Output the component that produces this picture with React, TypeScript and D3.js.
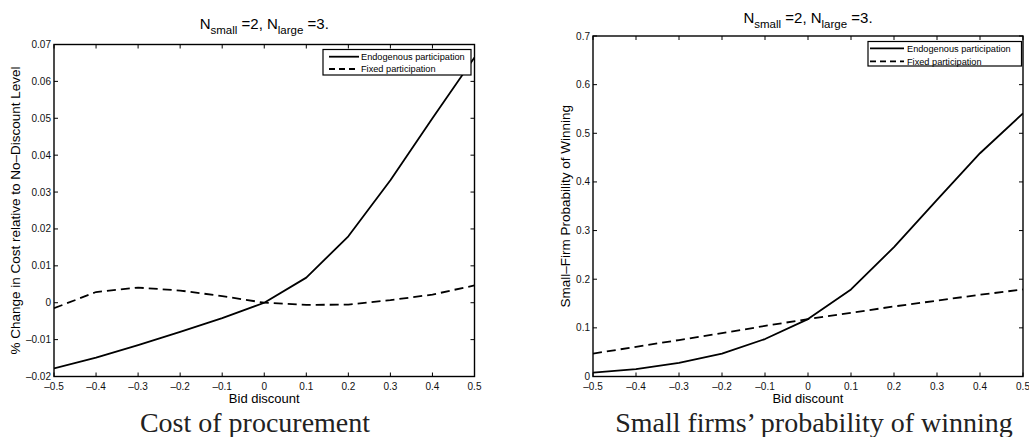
import React from "react";
import * as d3 from "d3";

const bidDiscount = [-0.5, -0.4, -0.3, -0.2, -0.1, 0, 0.1, 0.2, 0.3, 0.4, 0.5];
const costEndogenous = [-0.0178, -0.0149, -0.0115, -0.0079, -0.0042, 0, 0.0068, 0.018, 0.0332, 0.05, 0.0665];
const costFixed = [-0.0015, 0.0029, 0.0041, 0.0033, 0.0018, 0, -0.0006, -0.0005, 0.0007, 0.0022, 0.0047];
const winEndogenous = [0.008, 0.015, 0.028, 0.047, 0.077, 0.118, 0.179, 0.266, 0.363, 0.459, 0.541];
const winFixed = [0.047, 0.061, 0.075, 0.089, 0.104, 0.118, 0.131, 0.144, 0.156, 0.168, 0.179];
const xTicks = [-0.5, -0.4, -0.3, -0.2, -0.1, 0, 0.1, 0.2, 0.3, 0.4, 0.5];
const costTicks = [-0.02, -0.01, 0, 0.01, 0.02, 0.03, 0.04, 0.05, 0.06, 0.07];
const winTicks = [0, 0.1, 0.2, 0.3, 0.4, 0.5, 0.6, 0.7];
const legendLabels = ["Endogenous participation", "Fixed participation"];

const SANS = "'Liberation Sans', Arial, Helvetica, sans-serif";
const SERIF = "'Liberation Serif', 'Times New Roman', serif";

function fmt(v: number, digits: number): string {
  if (Math.abs(v) < 1e-9) return "0";
  const s = Math.abs(v).toFixed(digits).replace(/0+$/, "");
  return (v < 0 ? "\u2013" : "") + s;
}

type PanelProps = {
  x0: number; x1: number; y0: number; y1: number;
  yDomain: [number, number];
  yTicks: number[];
  yDigits: number;
  endog: number[];
  fixed: number[];
  yLabel: string;
  yLabelX: number;
  titleY: number;
  caption: string;
  captionX: number;
  legend: { x0: number; x1: number; y0: number; y1: number; r1: number; r2: number; l0: number; l1: number; tx: number };
  id: string;
};

function Panel(p: PanelProps) {
  const x = d3.scaleLinear().domain([-0.5, 0.5]).range([p.x0, p.x1]);
  const y = d3.scaleLinear().domain(p.yDomain).range([p.y1, p.y0]);
  const line = d3.line<number>().x((_, i) => x(bidDiscount[i])).y((d) => y(d));
  const tl = 4;
  const cx = (p.x0 + p.x1) / 2;
  const cy = (p.y0 + p.y1) / 2;
  return (
    <g>
      <defs>
        <clipPath id={"clip-" + p.id}>
          <rect x={p.x0} y={p.y0} width={p.x1 - p.x0} height={p.y1 - p.y0} />
        </clipPath>
      </defs>
      <g clipPath={`url(#clip-${p.id})`}>
        <path d={line(p.endog) || ""} fill="none" stroke="#000" strokeWidth={1.8} strokeLinejoin="round" />
        <path d={line(p.fixed) || ""} fill="none" stroke="#000" strokeWidth={1.8} strokeDasharray="9,5" />
      </g>
      {xTicks.map((t, i) => (
        <g key={"xt" + i}>
          <line x1={x(t)} x2={x(t)} y1={p.y1} y2={p.y1 - tl} stroke="#000" strokeWidth={1} />
          <line x1={x(t)} x2={x(t)} y1={p.y0} y2={p.y0 + tl} stroke="#000" strokeWidth={1} />
          <text x={x(t)} y={p.y1 + 13.2} textAnchor="middle" fontFamily={SANS} fontSize={10} fill="#111">
            {fmt(t, 1)}
          </text>
        </g>
      ))}
      {p.yTicks.map((t, i) => (
        <g key={"yt" + i}>
          <line x1={p.x0} x2={p.x0 + tl} y1={y(t)} y2={y(t)} stroke="#000" strokeWidth={1} />
          <line x1={p.x1} x2={p.x1 - tl} y1={y(t)} y2={y(t)} stroke="#000" strokeWidth={1} />
          <text x={p.x0 - 3} y={y(t)} dy="0.35em" textAnchor="end" fontFamily={SANS} fontSize={10} fill="#111">
            {fmt(t, p.yDigits)}
          </text>
        </g>
      ))}
      <rect x={p.x0} y={p.y0} width={p.x1 - p.x0} height={p.y1 - p.y0} fill="none" stroke="#000" strokeWidth={1.4} />
      <rect x={p.legend.x0} y={p.legend.y0} width={p.legend.x1 - p.legend.x0} height={p.legend.y1 - p.legend.y0} fill="#fff" stroke="#000" strokeWidth={1.2} />
      <line x1={p.legend.l0} x2={p.legend.l1} y1={p.legend.r1} y2={p.legend.r1} stroke="#000" strokeWidth={1.8} />
      <line x1={p.legend.l0} x2={p.legend.l1} y1={p.legend.r2} y2={p.legend.r2} stroke="#000" strokeWidth={1.8} strokeDasharray="6,4" />
      <text x={p.legend.tx} y={p.legend.r1} dy="0.35em" fontFamily={SANS} fontSize={9.2} fill="#000">{legendLabels[0]}</text>
      <text x={p.legend.tx} y={p.legend.r2} dy="0.35em" fontFamily={SANS} fontSize={9.2} fill="#000">{legendLabels[1]}</text>
      <text x={cx} y={p.titleY} textAnchor="middle" fontFamily={SANS} fontSize={15} fill="#000">
        <tspan>N</tspan>
        <tspan fontSize={11.5} dy={5}>small</tspan>
        <tspan dy={-5}> =2, N</tspan>
        <tspan fontSize={11.5} dy={5}>large</tspan>
        <tspan dy={-5}> =3.</tspan>
      </text>
      <text x={cx} y={p.y1 + 26.5} textAnchor="middle" fontFamily={SANS} fontSize={13} fill="#000">Bid discount</text>
      <text transform={`translate(${p.yLabelX},${cy}) rotate(-90)`} textAnchor="middle" fontFamily={SANS} fontSize={13.5} fill="#000">
        {p.yLabel}
      </text>
      <text x={p.captionX} y={432} textAnchor="middle" fontFamily={SERIF} fontSize={28} fill="#222">{p.caption}</text>
    </g>
  );
}

export default function App() {
  return (
    <svg width={1029} height={437} style={{ position: "absolute", left: 0, top: 0, background: "#fff" }}>
      <rect x={0} y={0} width={1029} height={437} fill="#fff" />
      <Panel
        id="a"
        x0={54} x1={474.5} y0={44.5} y1={376.5}
        yDomain={[-0.02, 0.07]}
        yTicks={costTicks}
        yDigits={2}
        endog={costEndogenous}
        fixed={costFixed}
        yLabel={"% Change in Cost relative to No\u2013Discount Level"}
        yLabelX={20}
        titleY={29}
        caption="Cost of procurement"
        captionX={255}
        legend={{ x0: 323, x1: 471, y0: 49.5, y1: 75, r1: 56.7, r2: 69, l0: 329, l1: 359, tx: 361 }}
      />
      <Panel
        id="b"
        x0={593} x1={1023} y0={36} y1={376.5}
        yDomain={[0, 0.7]}
        yTicks={winTicks}
        yDigits={1}
        endog={winEndogenous}
        fixed={winFixed}
        yLabel={"Small\u2013Firm Probability of Winning"}
        yLabelX={570}
        titleY={23}
        caption={"Small firms\u2019 probability of winning"}
        captionX={814}
        legend={{ x0: 868, x1: 1021.5, y0: 41.5, y1: 66, r1: 48.3, r2: 61.3, l0: 870, l1: 904, tx: 907 }}
      />
    </svg>
  );
}
